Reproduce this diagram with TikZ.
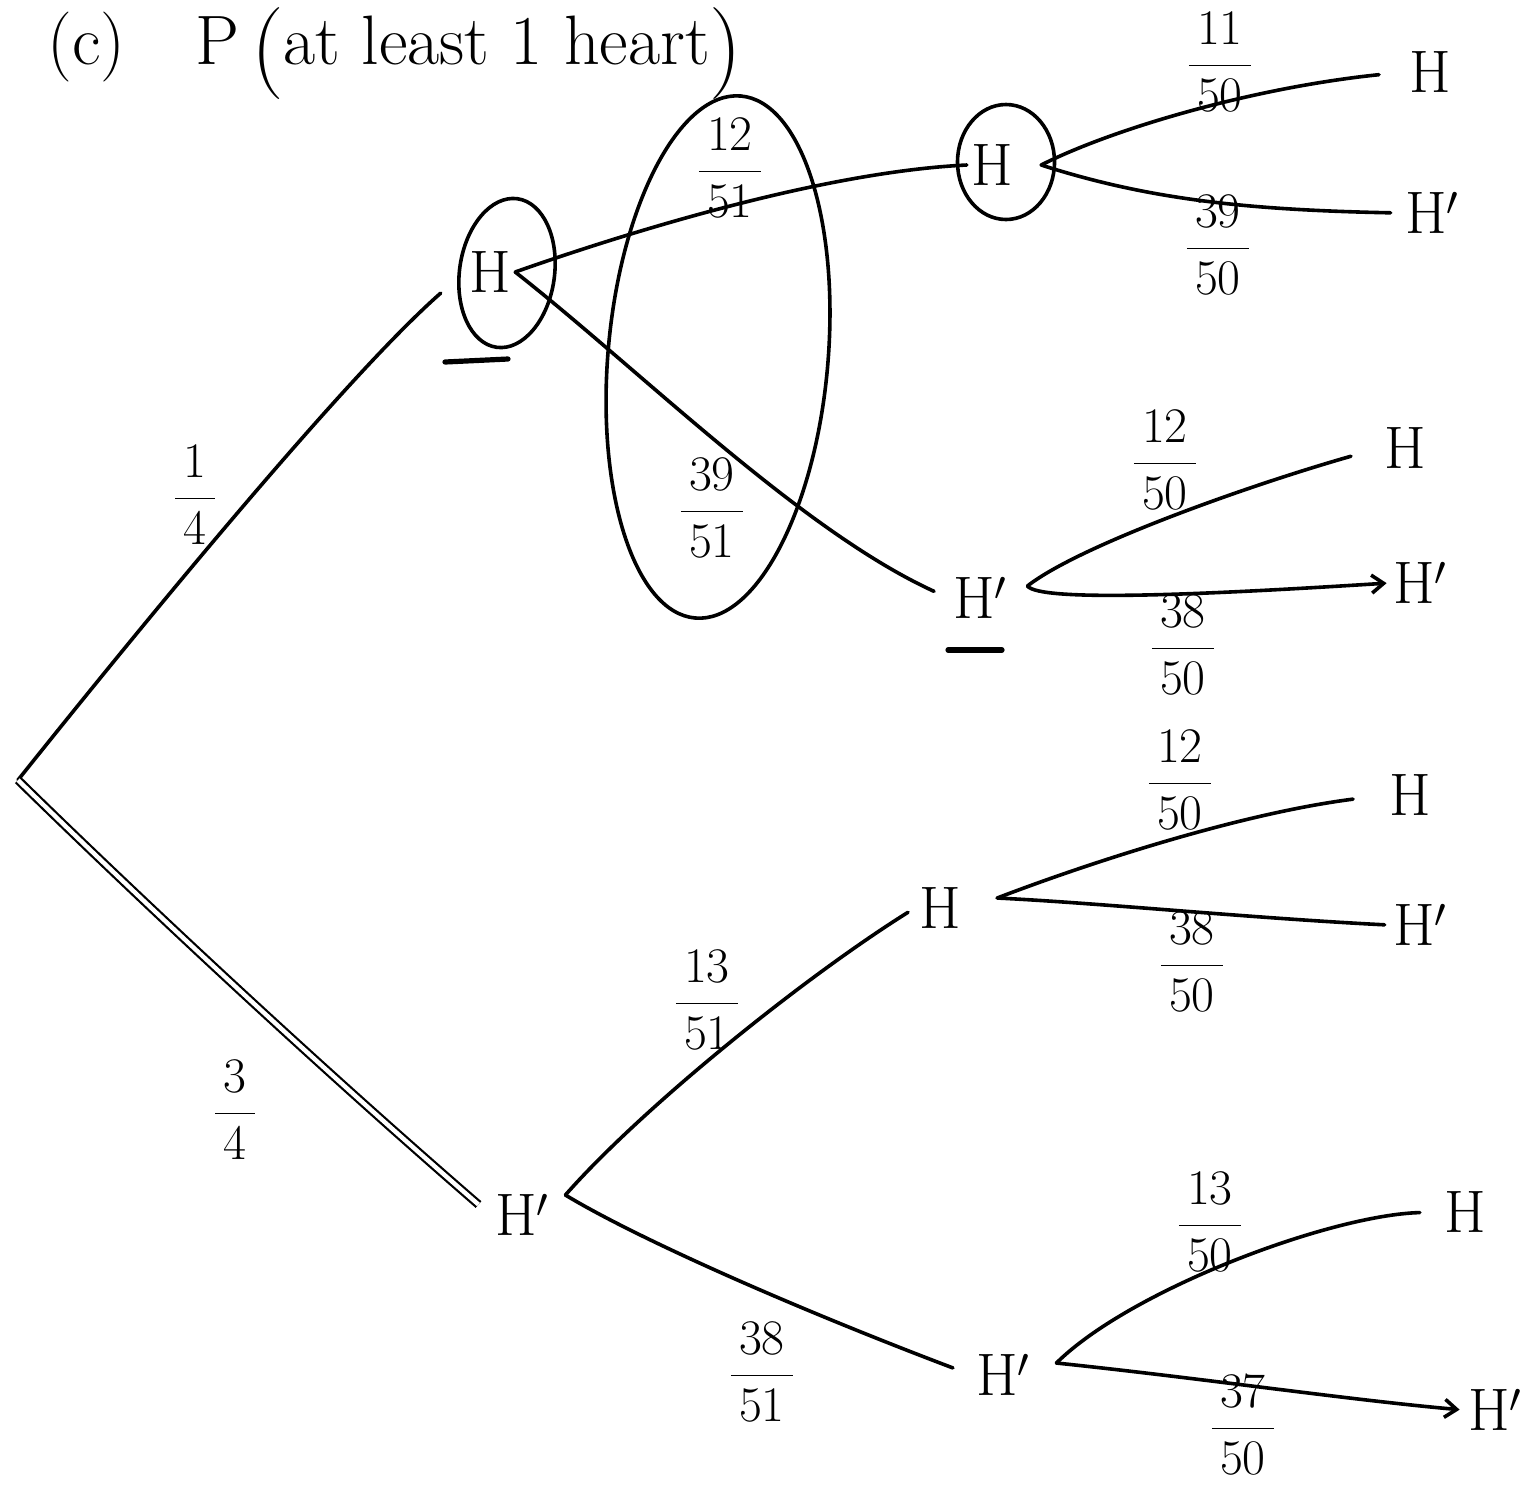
\documentclass[tikz,border=0pt]{standalone}
\usetikzlibrary{shapes.geometric,arrows.meta}
\newcommand{\bigparen}[1]{{\fontsize{46}{46}\selectfont\raisebox{-6pt}{#1}}}
\begin{document}
\begin{tikzpicture}[x=0.5pt,y=-0.5pt,
  branch/.style={line width=1.8pt, line cap=round},
  lbl/.style={font=\fontsize{29}{34}\selectfont, inner sep=0pt},
  leaf/.style={font=\fontsize{30}{34}\selectfont, inner sep=2pt},
  titletext/.style={font=\fontsize{35}{40}\selectfont, inner sep=0pt},
  ring/.style={draw, ellipse, line width=1.8pt, inner sep=0pt},
  uline/.style={line width=2.6pt, line cap=round},
  tip/.style={-{Straight Barb[length=6pt,width=9pt,line width=1.8pt]}}
]
\useasboundingbox (0,0) rectangle (1524,1485);

% title
\node[titletext] (title) at (395,54) {(c)\quad P\,\bigparen{(}at least 1 heart\bigparen{)}};

% tree nodes
\coordinate (root) at (18,780);
\node[leaf] (a1) at (490,272) {H};
\node[leaf] (a2) at (522,1215) {H$'$};
\node[leaf] (b1) at (992,165) {H};
\node[leaf] (b2) at (980,598) {H$'$};
\node[leaf] (b3) at (940,908) {H};
\node[leaf] (b4) at (1003,1375) {H$'$};
\node[leaf] (c1) at (1430,72) {H};
\node[leaf] (c2) at (1432,213) {H$'$};
\node[leaf] (c3) at (1405,448) {H};
\node[leaf] (c4) at (1420,583) {H$'$};
\node[leaf] (c5) at (1410,795) {H};
\node[leaf] (c6) at (1420,925) {H$'$};
\node[leaf] (c7) at (1465,1212) {H};
\node[leaf] (c8) at (1495,1410) {H$'$};

% rings and underlines
\node[ring, minimum width=47.5pt, minimum height=75pt, rotate=-8] (r1) at (507,273) {};
\node[ring, minimum width=48.5pt, minimum height=57.5pt] (r2) at (1006,162) {};
\node[ring, minimum width=110pt, minimum height=262pt, rotate=-5] (r3) at (718,357) {};
\draw[uline] (445,362) -- (508,359);
\draw[uline] (948,650) -- (1002,650);

% first level
\draw[branch, shorten >=16pt] (root) .. controls (70,715) and (330,390) .. (a1.west);
\draw[line width=1.1pt, double, double distance=2.2pt, shorten >=8pt] (root) .. controls (120,880) and (300,1050) .. (a2.west);

% second level
\draw[branch] (a1.east) .. controls (620,235) and (820,172) .. (b1.west);
\draw[branch, shorten >=8pt] (a1.east) .. controls (640,370) and (800,530) .. (b2.west);
\draw[branch, shorten >=4pt] ([xshift=6pt,yshift=10pt]a2.east) .. controls (640,1110) and (800,980) .. (b3.west);
\draw[branch, shorten >=10pt] ([xshift=6pt,yshift=10pt]a2.east) .. controls (640,1240) and (800,1310) .. (b4.west);

% third level
\draw[branch, shorten >=13pt] ([xshift=12pt]b1.east) .. controls (1110,130) and (1250,88) .. (c1.west);
\draw[branch, shorten >=5pt] ([xshift=12pt]b1.east) .. controls (1150,200) and (1250,210) .. (c2.west);
\draw[branch, shorten >=15pt] ([xshift=8pt,yshift=6pt]b2.east) .. controls (1080,545) and (1250,485) .. (c3.west);
\draw[branch, tip, shorten >=1pt] ([xshift=8pt,yshift=6pt]b2.east) .. controls (1040,602) and (1200,595) .. (c4.west);
\draw[branch, shorten >=16pt] ([xshift=16pt,yshift=5pt]b3.east) .. controls (1070,870) and (1230,815) .. (c5.west);
\draw[branch, shorten >=2pt] ([xshift=16pt,yshift=5pt]b3.east) .. controls (1100,903) and (1250,918) .. (c6.west);
\draw[branch, shorten >=10pt] ([xshift=11pt,yshift=6pt]b4.east) .. controls (1130,1290) and (1330,1215) .. (c7.west);
\draw[branch, tip, shorten >=2pt] ([xshift=11pt,yshift=6pt]b4.east) .. controls (1200,1378) and (1350,1400) .. (c8.west);

% probabilities
\node[lbl] (p14) at (195,495) {$\displaystyle\frac{\,1\,}{\,4\,}$};
\node[lbl] (p34) at (235,1110) {$\displaystyle\frac{\,3\,}{\,4\,}$};
\node[lbl] (p1251) at (730,168) {$\displaystyle\frac{\,12\,}{\,51\,}$};
\node[lbl] (p3951) at (712,508) {$\displaystyle\frac{\,39\,}{\,51\,}$};
\node[lbl] (p1351) at (707,1000) {$\displaystyle\frac{\,13\,}{\,51\,}$};
\node[lbl] (p3851) at (762,1372) {$\displaystyle\frac{\,38\,}{\,51\,}$};
\node[lbl] (p1150) at (1220,62) {$\displaystyle\frac{\,11\,}{\,50\,}$};
\node[lbl] (p3950) at (1218,245) {$\displaystyle\frac{\,39\,}{\,50\,}$};
\node[lbl] (p1250a) at (1165,460) {$\displaystyle\frac{\,12\,}{\,50\,}$};
\node[lbl] (p3850a) at (1183,645) {$\displaystyle\frac{\,38\,}{\,50\,}$};
\node[lbl] (p1250b) at (1180,780) {$\displaystyle\frac{\,12\,}{\,50\,}$};
\node[lbl] (p3850b) at (1192,962) {$\displaystyle\frac{\,38\,}{\,50\,}$};
\node[lbl] (p1350) at (1210,1222) {$\displaystyle\frac{\,13\,}{\,50\,}$};
\node[lbl] (p3750) at (1243,1425) {$\displaystyle\frac{\,37\,}{\,50\,}$};
\end{tikzpicture}
\end{document}
